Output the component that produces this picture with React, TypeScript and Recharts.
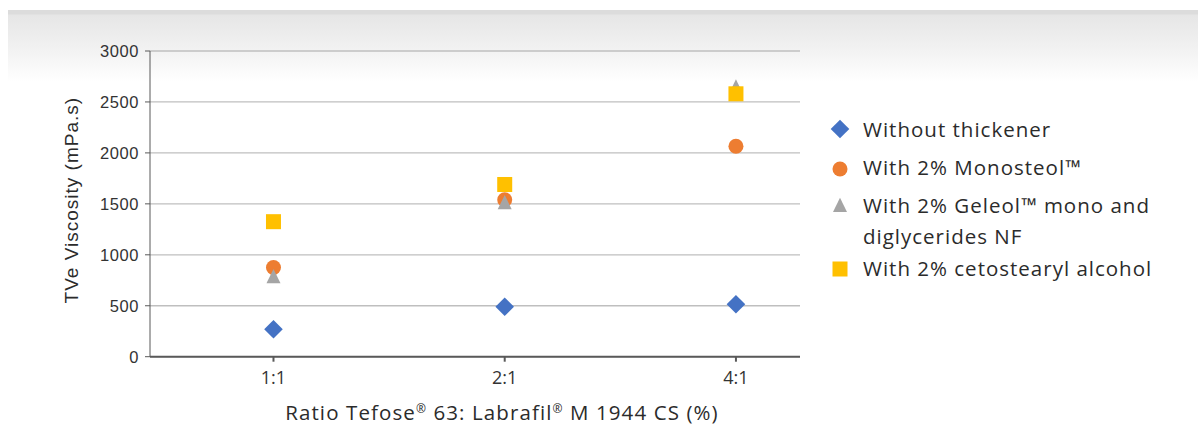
import React from 'react';
import { ScatterChart, Scatter, XAxis, YAxis, CartesianGrid } from 'recharts';

const categories = ['1:1', '2:1', '4:1'];
const withoutThickener = [270, 490, 515];
const monosteol = [875, 1540, 2065];
const geleol = [790, 1515, 2650];
const cetostearyl = [1325, 1690, 2580];
const yTicks = [0, 500, 1000, 1500, 2000, 2500, 3000];
const xTicks = [1, 2, 3];

const seriesNames = [
  'Without thickener',
  'With 2% Monosteol™',
  'With 2% Geleol™ mono and diglycerides NF',
  'With 2% cetostearyl alcohol',
];
const colors = ['#4472c4', '#ed7d31', '#a5a5a5', '#ffc000'];

const toData = (vals: number[]) => categories.map((c, i) => ({ x: i + 1, y: vals[i], cat: c }));

const Diamond = ({ cx, cy, fill }: any) => (
  <polygon points={`${cx},${cy - 9.3} ${cx + 9.3},${cy} ${cx},${cy + 9.3} ${cx - 9.3},${cy}`} fill={fill} />
);
const Circle = ({ cx, cy, fill }: any) => <circle cx={cx} cy={cy} r={7.5} fill={fill} />;
const Triangle = ({ cx, cy, fill }: any) => (
  <polygon points={`${cx},${cy - 7.3} ${cx + 7},${cy + 7} ${cx - 7},${cy + 7}`} fill={fill} />
);
const Square = ({ cx, cy, fill }: any) => <rect x={cx - 7.5} y={cy - 7.5} width={15} height={15} fill={fill} />;

const shapes = [Diamond, Circle, Triangle, Square];
const seriesValues = [withoutThickener, monosteol, geleol, cetostearyl];

const dinFont = "'Open Sans', sans-serif";
const arialFont = "'Liberation Sans', Arial, sans-serif";

export default function App() {
  const legendRows = [
    { top: 114, lines: [seriesNames[0]], my: 129.3 },
    { top: 152, lines: [seriesNames[1]], my: 169.3 },
    { top: 190, lines: ['With 2% Geleol™ mono and', 'diglycerides NF'], my: 205 },
    { top: 253, lines: [seriesNames[3]], my: 269 },
  ];
  return (
    <div style={{ position: 'absolute', left: 0, top: 0, width: 1198, height: 428, background: '#fff', overflow: 'hidden' }}>
      <div
        style={{
          position: 'absolute',
          left: 8,
          top: 10,
          right: 0,
          height: 72,
          background: 'linear-gradient(to bottom, #dcdcdc 0px, #dcdcdc 4px, #e6e6e6 5px, #f2f2f2 40px, #ffffff 72px)',
        }}
      />
      <div style={{ position: 'absolute', left: 0, top: 0 }}>
        <ScatterChart width={1198} height={428} margin={{ top: 51, right: 398, left: 90, bottom: 0 }}>
          <CartesianGrid horizontal vertical={false} stroke="#bfbfbf" strokeWidth={1.3} />
          <XAxis
            type="number"
            dataKey="x"
            domain={[0.466, 3.277]}
            ticks={xTicks}
            allowDataOverflow
            tickFormatter={(v: number) => categories[v - 1]}
            height={71.3}
            stroke="#595959"
            strokeWidth={2}
            tickSize={5}
            tickMargin={10}
            tick={{ fill: '#333', fontSize: 18, fontFamily: dinFont }}
            label={{
              content: (p: any) => {
                const vb = p.viewBox;
                return (
                  <text
                    x={502}
                    y={vb.y + vb.height - 8}
                    textAnchor="middle"
                    fill="#2b2b2b"
                    fontSize={20.5}
                    letterSpacing={1.1}
                    fontFamily={dinFont}
                  >
                    <tspan>Ratio Tefose</tspan>
                    <tspan fontSize={12} dy={-7}>®</tspan>
                    <tspan dy={7}> 63: Labrafil</tspan>
                    <tspan fontSize={12} dy={-7}>®</tspan>
                    <tspan dy={7}> M 1944 CS (%)</tspan>
                  </text>
                );
              },
            }}
          />
          <YAxis
            type="number"
            dataKey="y"
            domain={[0, 3000]}
            ticks={yTicks}
            width={60}
            stroke="#595959"
            tickSize={5}
            tickMargin={6}
            tick={{ fill: '#333', fontSize: 16.5, letterSpacing: 0.6, fontFamily: arialFont }}
            label={{
              content: (p: any) => {
                const vb = p.viewBox;
                const cy = vb.y + vb.height / 2 - 3.7;
                return (
                  <text
                    x={72}
                    y={cy}
                    transform={`rotate(-90, 72, ${cy})`}
                    textAnchor="middle"
                    dominantBaseline="central"
                    fill="#2b2b2b"
                    fontSize={19}
                    letterSpacing={1}
                    fontFamily={arialFont}
                  >
                    TVe Viscosity (mPa.s)
                  </text>
                );
              },
            }}
          />
          {seriesValues.map((vals, i) => {
            const Shape = shapes[i];
            return (
              <Scatter
                key={seriesNames[i]}
                name={seriesNames[i]}
                data={toData(vals)}
                fill={colors[i]}
                isAnimationActive={false}
                shape={(props: any) => <Shape cx={props.cx} cy={props.cy} fill={colors[i]} />}
              />
            );
          })}
        </ScatterChart>
      </div>
      {legendRows.map((row, i) => {
        const Shape = shapes[i];
        return (
          <React.Fragment key={i}>
            <svg style={{ position: 'absolute', left: 820, top: row.my - 20 }} width={40} height={40}>
              <Shape cx={20} cy={20} fill={colors[i]} />
            </svg>
            <div
              style={{
                position: 'absolute',
                left: 863,
                top: row.top,
                fontFamily: dinFont,
                fontSize: 20.5,
                letterSpacing: '1px',
                lineHeight: '30.6px',
                color: '#2b2b2b',
                whiteSpace: 'nowrap',
              }}
            >
              {row.lines.map((l, j) => (
                <div key={j}>{l}</div>
              ))}
            </div>
          </React.Fragment>
        );
      })}
    </div>
  );
}
